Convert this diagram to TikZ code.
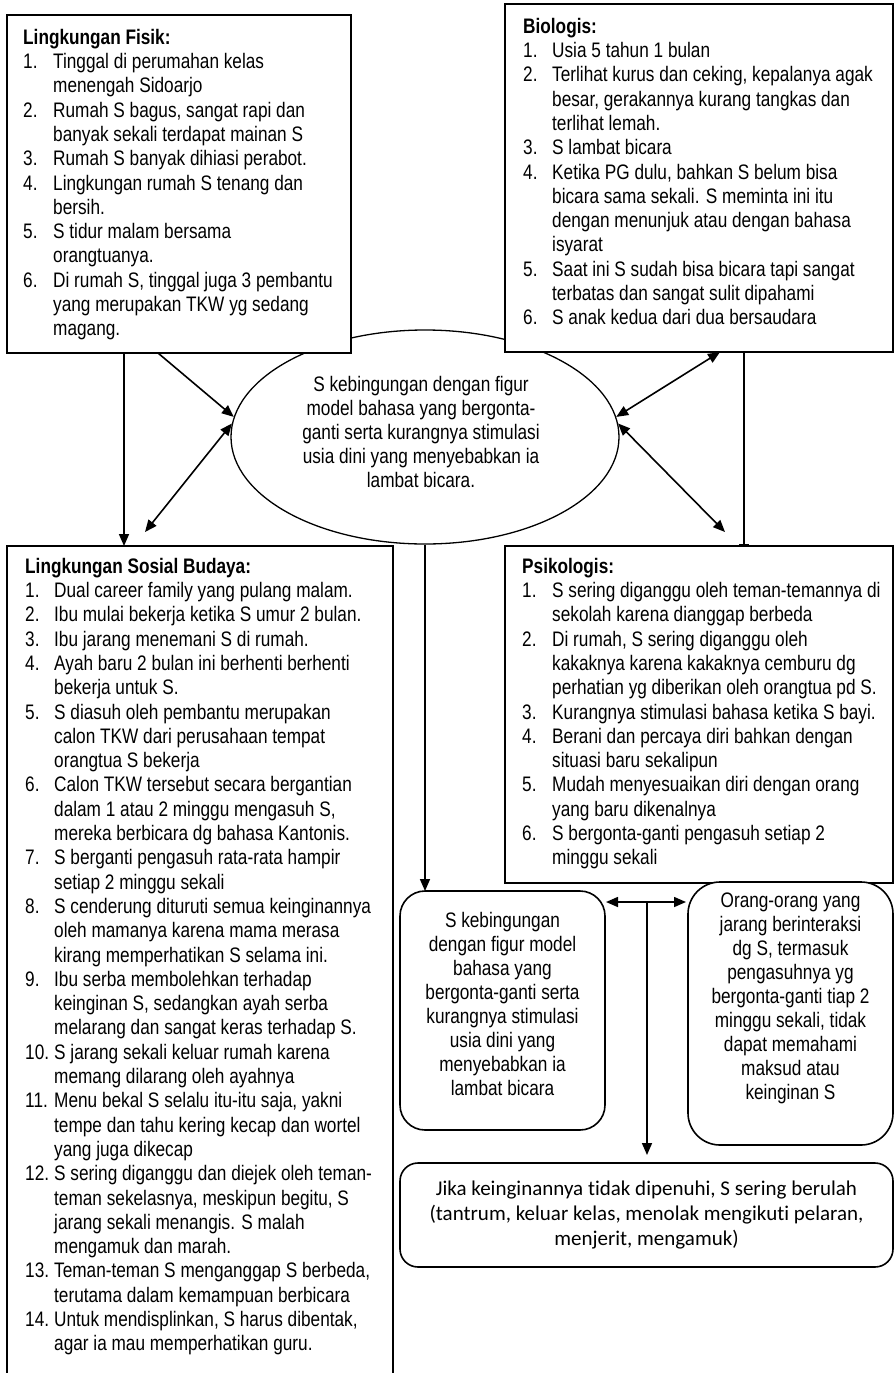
\documentclass[tikz,border=0pt]{standalone}
\usepackage{fontspec}
\setmainfont{Liberation Sans}[FakeStretch=0.82]
\newfontfamily\calfont{Carlito}[Ligatures=NoCommon]
\usetikzlibrary{arrows.meta,shapes.geometric}
\begin{document}
\begin{tikzpicture}[x=1pt,y=-1pt,
  box/.style={draw, line width=1.6pt, fill=white, inner sep=0pt, outer sep=0pt, anchor=north west},
  txt/.style={anchor=north west, inner sep=0pt, font=\fontsize{21}{24.3}\selectfont},
  ctxt/.style={inner sep=0pt, align=center, font=\fontsize{21}{24}\selectfont},
  arr/.style={-{Triangle[length=12pt,width=10pt]}, line width=1.6pt},
  dbl/.style={{Triangle[length=12pt,width=10pt]}-{Triangle[length=12pt,width=10pt]}, line width=1.6pt},
]
\useasboundingbox (0,0) rectangle (894,1373);
\fill[white] (0,0) rectangle (894,1373);

% central ellipse
\node[ellipse, draw, line width=1.3pt, minimum width=388pt, minimum height=214pt, inner sep=0pt] (E) at (425,437) {};
\node[ctxt] (Et) at (421,432) {S kebingungan dengan figur\\model bahasa yang bergonta-\\ganti serta kurangnya stimulasi\\usia dini yang menyebabkan ia\\lambat bicara.};

% boxes
\node[box, minimum width=344pt, minimum height=338pt] (B1) at (7,15) {};
\node[box, minimum width=388pt, minimum height=348pt] (B2) at (505,4) {};
\node[box, draw=none, minimum width=386pt, minimum height=840pt] (S) at (7,546) {};
\draw[line width=1.6pt] (S.south west) -- (S.north west) -- (S.north east) -- (S.south east);
\node[box, minimum width=388pt, minimum height=337pt] (P) at (505,546) {};
\node[box, rounded corners=25pt, minimum width=205pt, minimum height=239pt] (R1) at (400,891) {};
\node[box, rounded corners=32pt, minimum width=205pt, minimum height=263pt] (R2) at (688,882) {};
\node[box, rounded corners=18pt, minimum width=493pt, minimum height=104pt] (Jk) at (400,1163) {};

% texts
\node[txt] (B1t) at (23,27) {\begin{tabular}{@{}p{30pt}@{}l@{}}
\multicolumn{2}{@{}l@{}}{\bfseries Lingkungan Fisik:}\\
1. & Tinggal di perumahan kelas\\
 & menengah Sidoarjo\\
2. & Rumah S bagus, sangat rapi dan\\
 & banyak sekali terdapat mainan S\\
3. & Rumah S banyak dihiasi perabot.\\
4. & Lingkungan rumah S tenang dan\\
 & bersih.\\
5. & S tidur malam bersama\\
 & orangtuanya.\\
6. & Di rumah S, tinggal juga 3 pembantu\\
 & yang merupakan TKW yg sedang\\
 & magang.
\end{tabular}};

\node[txt] (B2t) at (523,16) {\begin{tabular}{@{}p{29pt}@{}l@{}}
\multicolumn{2}{@{}l@{}}{\bfseries Biologis:}\\
1. & Usia 5 tahun 1 bulan\\
2. & Terlihat kurus dan ceking, kepalanya agak\\
 & besar, gerakannya kurang tangkas dan\\
 & terlihat lemah.\\
3. & S lambat bicara\\
4. & Ketika PG dulu, bahkan S belum bisa\\
 & bicara sama sekali. S meminta ini itu\\
 & dengan menunjuk atau dengan bahasa\\
 & isyarat\\
5. & Saat ini S sudah bisa bicara tapi sangat\\
 & terbatas dan sangat sulit dipahami\\
6. & S anak kedua dari dua bersaudara
\end{tabular}};

\node[txt] (St) at (25,556) {\begin{tabular}{@{}p{29pt}@{}l@{}}
\multicolumn{2}{@{}l@{}}{\bfseries Lingkungan Sosial Budaya:}\\
1. & Dual career family yang pulang malam.\\
2. & Ibu mulai bekerja ketika S umur 2 bulan.\\
3. & Ibu jarang menemani S di rumah.\\
4. & Ayah baru 2 bulan ini berhenti berhenti\\
 & bekerja untuk S.\\
5. & S diasuh oleh pembantu merupakan\\
 & calon TKW dari perusahaan tempat\\
 & orangtua S bekerja\\
6. & Calon TKW tersebut secara bergantian\\
 & dalam 1 atau 2 minggu mengasuh S,\\
 & mereka berbicara dg bahasa Kantonis.\\
7. & S berganti pengasuh rata-rata hampir\\
 & setiap 2 minggu sekali\\
8. & S cenderung dituruti semua keinginannya\\
 & oleh mamanya karena mama merasa\\
 & kirang memperhatikan S selama ini.\\
9. & Ibu serba membolehkan terhadap\\
 & keinginan S, sedangkan ayah serba\\
 & melarang dan sangat keras terhadap S.\\
10. & S jarang sekali keluar rumah karena\\
 & memang dilarang oleh ayahnya\\
11. & Menu bekal S selalu itu-itu saja, yakni\\
 & tempe dan tahu kering kecap dan wortel\\
 & yang juga dikecap\\
12. & S sering diganggu dan diejek oleh teman-\\
 & teman sekelasnya, meskipun begitu, S\\
 & jarang sekali menangis. S malah\\
 & mengamuk dan marah.\\
13. & Teman-teman S menganggap S berbeda,\\
 & terutama dalam kemampuan berbicara\\
14. & Untuk mendisplinkan, S harus dibentak,\\
 & agar ia mau memperhatikan guru.
\end{tabular}};

\node[txt] (Pt) at (522,556) {\begin{tabular}{@{}p{30pt}@{}l@{}}
\multicolumn{2}{@{}l@{}}{\bfseries Psikologis:}\\
1. & S sering diganggu oleh teman-temannya di\\
 & sekolah karena dianggap berbeda\\
2. & Di rumah, S sering diganggu oleh\\
 & kakaknya karena kakaknya cemburu dg\\
 & perhatian yg diberikan oleh orangtua pd S.\\
3. & Kurangnya stimulasi bahasa ketika S bayi.\\
4. & Berani dan percaya diri bahkan dengan\\
 & situasi baru sekalipun\\
5. & Mudah menyesuaikan diri dengan orang\\
 & yang baru dikenalnya\\
6. & S bergonta-ganti pengasuh setiap 2\\
 & minggu sekali
\end{tabular}};

\node[ctxt] (R1t) at (502.5,1004) {S kebingungan\\dengan figur model\\bahasa yang\\bergonta-ganti serta\\kurangnya stimulasi\\usia dini yang\\menyebabkan ia\\lambat bicara};
\node[ctxt] (R2t) at (790.5,998) {Orang-orang yang\\jarang berinteraksi\\dg S, termasuk\\pengasuhnya yg\\bergonta-ganti tiap 2\\minggu sekali, tidak\\dapat memahami\\maksud atau\\keinginan S};
\node[inner sep=0pt, align=center, font=\calfont\fontsize{21}{25}\selectfont] (Jkt) at (646.5,1215) {Jika keinginannya tidak dipenuhi, S sering berulah\\(tantrum, keluar kelas, menolak mengikuti pelaran,\\menjerit, mengamuk)};

% connectors
\coordinate (b1d) at ([xshift=117pt]B1.south west);
\draw[arr] (b1d) -- (b1d |- S.north);
\coordinate (b1e) at ([xshift=151pt]B1.south west);
\draw[arr] (b1e) -- (E.174);
\coordinate (sE) at ([xshift=138pt,yshift=14pt]S.north west);
\draw[dbl] (E.176) -- (sE);
\coordinate (bE) at ([xshift=215pt]B2.south west);
\draw[dbl] (E.6) -- (bE);
\coordinate (pE) at ([xshift=220pt,yshift=14pt]P.north west);
\draw[dbl] (E.4) -- (pE);
\coordinate (bp) at ([xshift=239pt]B2.south west);
\draw[line width=1.6pt, -{Bar[width=10pt]}] (bp) -- (bp |- P.north);
\draw[arr] (E.south) -- (E.south |- R1.north);
\coordinate (j1) at ([xshift=1pt,yshift=-11pt]R1.north east);
\coordinate (j2) at ([xshift=-2pt,yshift=-20pt]R2.north west);
\draw[dbl] (j1) -- (j2);
\coordinate (J) at (647,902);
\draw[arr, shorten >=8pt] (J) -- (J |- Jk.north);
\end{tikzpicture}
\end{document}
